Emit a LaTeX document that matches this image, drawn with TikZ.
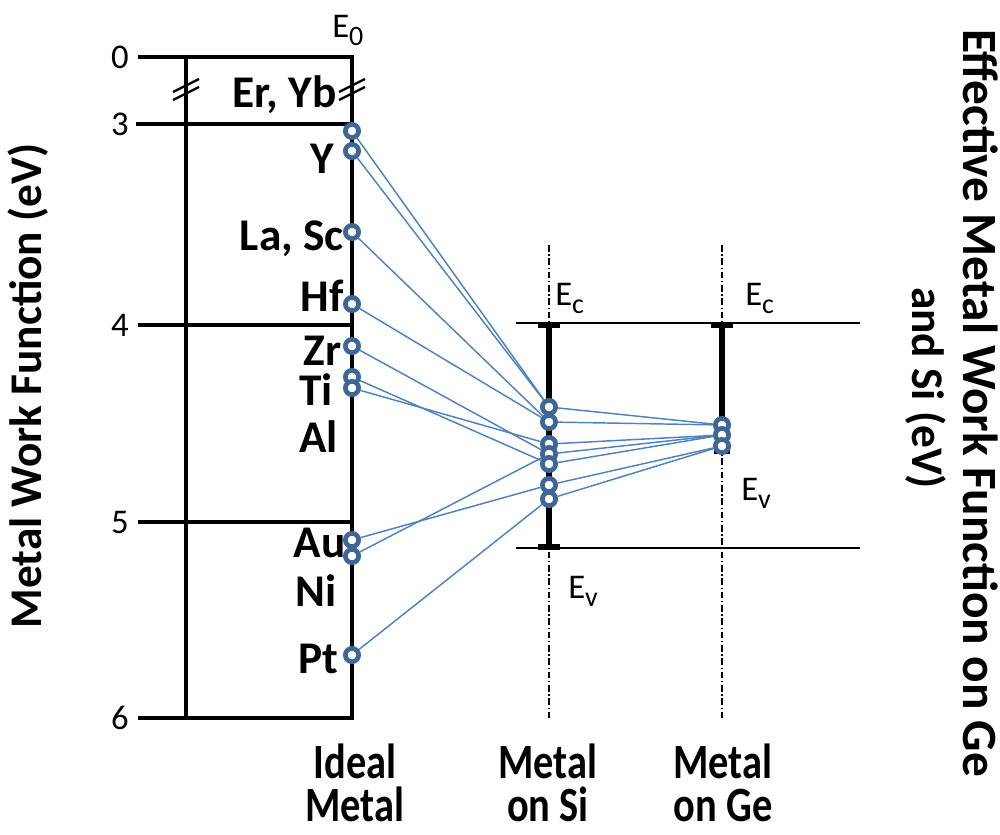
\documentclass[tikz,border=0pt]{standalone}
\usepackage{fontspec}
\setmainfont{Carlito}
\newfontfamily\condfont[FakeStretch=0.82]{Carlito}
\definecolor{dotblue}{RGB}{62,102,150}
\definecolor{linkblue}{RGB}{79,129,189}
\newcommand\lsub[1]{\raisebox{-6pt}{\fontsize{21}{21}\selectfont #1}}
\begin{document}
\begin{tikzpicture}[x=0.75pt,y=-0.75pt,
  axisline/.style={line width=3pt,line cap=rect},
  breakmark/.style={line width=1.8pt},
  levelline/.style={line width=1pt},
  dashdotline/.style={line width=1pt,dash pattern=on 5pt off 2pt on 1pt off 2pt},
  gapbar/.style={line width=5pt},
  gapcap/.style={line width=4pt},
  dot/.style={circle,draw=dotblue,fill=white,line width=3.5pt,minimum size=10pt,inner sep=0pt},
  link/.style={draw=linkblue,line width=1.1pt},
  elab/.style={font=\bfseries\fontsize{34}{34}\selectfont,inner sep=0pt,anchor=base east},
  tick/.style={font=\fontsize{26}{26}\selectfont,inner sep=0pt,anchor=east},
  elev/.style={font=\fontsize{26}{26}\selectfont,inner sep=0pt,anchor=base west},
  botlab/.style={font=\condfont\bfseries\fontsize{37}{32}\selectfont,inner sep=0pt,align=center,anchor=base},
  axlab/.style={font=\bfseries\fontsize{34}{34}\selectfont,inner sep=0pt}
]
\useasboundingbox (0,0) rectangle (1000,835);

% ideal metal box
\draw[axisline] (140,57) -- (352,57);
\draw[axisline] (138,124) -- (352,124);
\draw[axisline] (140,325) -- (352,325);
\draw[axisline] (140,522) -- (352,522);
\draw[axisline] (140,718) -- (352,718);
\draw[axisline] (186,57) -- (186,718);
\draw[axisline] (352,57) -- (352,718);

% break marks
\foreach \bx in {186,352}{
  \draw[breakmark] (\bx-13,92) -- (\bx+13,79);
  \draw[breakmark] (\bx-13,100) -- (\bx+13,87);
}

% tick labels
\node[tick] (t0) at (129,57) {0};
\node[tick] (t3) at (129,124) {3};
\node[tick] (t4) at (129,325) {4};
\node[tick] (t5) at (129,522) {5};
\node[tick] (t6) at (129,718) {6};

% E0
\node[elev] (e0) at (332,37) {E\lsub{0}};

% element labels
\node[elab] (erb) at (337,107) {Er, Yb};
\node[elab] (ly) at (334,173) {Y};
\node[elab] (llasc) at (344,250) {La, Sc};
\node[elab] (lhf) at (344,311) {Hf};
\node[elab] (lzr) at (342,365) {Zr};
\node[elab] (lti) at (333,405) {Ti};
\node[elab] (lal) at (338,452) {Al};
\node[elab] (lau) at (346,557) {Au};
\node[elab] (lni) at (337,606) {Ni};
\node[elab] (lpt) at (339,673) {Pt};

% Ec / Ev levels
\draw[levelline] (516,323) -- (860,323);
\draw[levelline] (516,548) -- (860,548);
\draw[dashdotline] (549,245) -- (549,720);
\draw[dashdotline] (722,245) -- (722,720);
\draw[gapbar] (549,325) -- (549,548);
\draw[gapcap] (538,325) -- (560,325);
\draw[gapcap] (538,547) -- (560,547);
\draw[gapbar] (722,325) -- (722,452);
\draw[gapcap] (711,325) -- (733,325);
\draw[gapcap] (714,451) -- (730,451);

\node[elev] (sec) at (555,305) {E\lsub{c}};
\node[elev] (gec) at (745,305) {E\lsub{c}};
\node[elev] (gev) at (741,500) {E\lsub{v}};
\node[elev] (sev) at (568,598) {E\lsub{v}};

% circles: ideal metal
\node[dot] (L1) at (352,131) {};
\node[dot] (L2) at (352,151) {};
\node[dot] (L3) at (352,232) {};
\node[dot] (L4) at (352,304) {};
\node[dot] (L5) at (352,346) {};
\node[dot] (L6) at (352,377) {};
\node[dot] (L7) at (352,388) {};
\node[dot] (L8) at (352,540) {};
\node[dot] (L9) at (352,556) {};
\node[dot] (L10) at (352,655) {};
% circles: on Si
\node[dot] (S1) at (549,407) {};
\node[dot] (S2) at (549,422) {};
\node[dot] (S3) at (549,444) {};
\node[dot] (S4) at (549,454) {};
\node[dot] (S5) at (549,464) {};
\node[dot] (S6) at (549,485) {};
\node[dot] (S7) at (549,499) {};
% circles: on Ge
\node[dot] (G1) at (722,425) {};
\node[dot] (G2) at (722,435) {};
\node[dot] (G3) at (722,446) {};

% connectors
\draw[link] (L1) -- (S1);
\draw[link] (L2) -- (S1);
\draw[link] (L3) -- (S2);
\draw[link] (L4) -- (S2);
\draw[link] (L5) -- (S4);
\draw[link] (L6) -- (S5);
\draw[link] (L7) -- (S3);
\draw[link] (L8) -- (S6);
\draw[link] (L9) -- (S4);
\draw[link] (L10) -- (S7);
\draw[link] (S1) -- (G1);
\draw[link] (S2) -- (G1);
\draw[link] (S3) -- (G2);
\draw[link] (S4) -- (G2);
\draw[link] (S5) -- (G2);
\draw[link] (S6) -- (G3);
\draw[link] (S7) -- (G3);

% bottom labels (base = baseline of last line)
\node[botlab] (bi) at (355,821) {Ideal\\Metal};
\node[botlab] (bs) at (548,821) {Metal\\on Si};
\node[botlab] (bg) at (723,821) {Metal\\on Ge};

% axis titles
\node[axlab,rotate=90] (yl) at (28,386) {Metal Work Function (eV)};
\node[axlab,rotate=-90,font=\bfseries\fontsize{37}{37}\selectfont] (yr1) at (981,403) {Effective Metal Work Function on Ge};
\node[axlab,rotate=-90] (yr2) at (926,388) {and Si (eV)};
\end{tikzpicture}
\end{document}
